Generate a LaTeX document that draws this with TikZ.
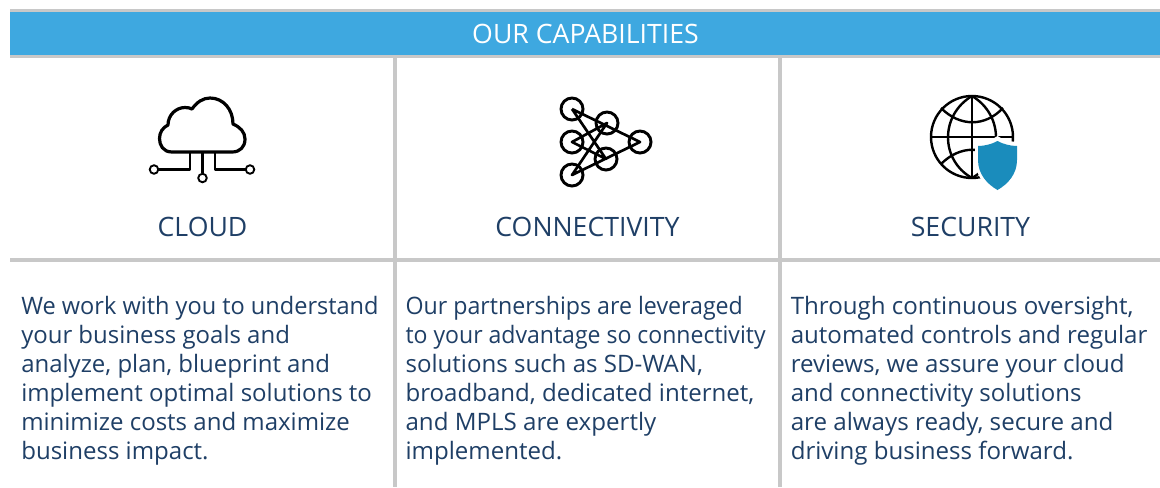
\documentclass[tikz,border=0pt]{standalone}
\usepackage{graphicx}
\usepackage{fontspec}
\setmainfont{Open Sans}
\definecolor{band}{HTML}{3EA8E0}
\definecolor{rule}{HTML}{C8C8C8}
\definecolor{navy}{HTML}{1F3F66}
\definecolor{shield}{HTML}{1A8CBC}
\newcommand{\fitline}[2]{\resizebox{#1pt}{\height}{#2}}
\tikzset{
  x=0.75pt,y=-0.75pt,
  rulel/.style={draw=rule,line width=2.6pt},
  headtext/.style={font=\fontsize{20}{24}\selectfont,text=navy,anchor=base},
  bodytext/.style={font=\fontsize{18}{21.75}\selectfont,text=navy,anchor=north west,align=left,inner sep=0pt},
  icon/.style={draw=black,line width=2pt,line join=round},
  globeline/.style={draw=black,line width=1.8pt},
  port/.style={circle,draw=black,line width=1.4pt,fill=white,minimum size=6.4pt,inner sep=0pt},
  net/.style={circle,draw=black,line width=2.2pt,minimum size=16.5pt,inner sep=0pt},
}
\begin{document}
\begin{tikzpicture}
\useasboundingbox (0,0) rectangle (1160,487);
\fill[white] (0,0) rectangle (1160,487);
% header band
\fill[rule] (10,9) rectangle (1160,58);
\fill[band] (10,11.5) rectangle (1160,55);
\node[font=\fontsize{20}{24}\selectfont,text=white,anchor=base] (title) at (585.5,43) {OUR CAPABILITIES};
% grid
\draw[rulel] (395,58) -- (395,487);
\draw[rulel] (780,58) -- (780,487);
\draw[rulel] (10,260) -- (1160,260);
% cloud
\draw[icon,line width=2.4pt] (172,152)
  .. controls (163,152) and (159.5,145) .. (159.5,138.5)
  .. controls (159.5,132) and (163,127.5) .. (168,125)
  .. controls (168,115) and (176,107.5) .. (185,107.5)
  .. controls (188,107.5) and (190,108) .. (192,109)
  .. controls (197,102) and (203,98) .. (210,98)
  .. controls (223,98) and (233,109) .. (233,124)
  .. controls (240,127) and (245,132) .. (245,139)
  .. controls (245,147) and (240,152) .. (232,152) -- cycle;
\node[port] (pl) at (154,169.5) {};
\node[port] (pm) at (202.5,178) {};
\node[port] (pr) at (250,169.5) {};
\coordinate (cl) at (190,152);
\coordinate (cm) at (202.5,152);
\coordinate (cr) at (215,152);
\draw[icon] (cl) |- (pl);
\draw[icon] (cm) -- (pm);
\draw[icon] (cr) |- (pr);
% network
\node[net] (n1) at (572,109) {};
\node[net] (n2) at (607,123) {};
\node[net] (n3) at (572,142) {};
\node[net] (n4) at (640,142) {};
\node[net] (n5) at (606,159) {};
\node[net] (n6) at (572,175) {};
\draw[icon] (n1.center) -- (n4.center) -- (n6.center) -- (n2.center) -- (n3.center) -- (n5.center) -- (n1.center);
% globe
\draw[globeline] (972,137) circle[radius=41];
\draw[globeline] (972,96) -- (972,178);
\draw[globeline] (931,137) -- (1013,137);
\draw[globeline] (972,96) .. controls (940,115) and (940,160) .. (972,178);
\draw[globeline] (972,96) .. controls (1004,115) and (1004,160) .. (972,178);
\draw[globeline] (941,108) .. controls (960,127) and (985,127) .. (1003,108);
\draw[globeline] (941,164) .. controls (960,145) and (985,145) .. (1003,164);
% shield
\fill[white] (997.5,136) .. controls (990,141) and (982,142) .. (975,142) -- (975,160)
  .. controls (975,175) and (985,187) .. (997.5,194)
  .. controls (1010,187) and (1020,175) .. (1020,160) -- (1020,142)
  .. controls (1013,142) and (1005,141) .. (997.5,136) -- cycle;
\fill[shield] (997.5,141) .. controls (992,144) and (985,146) .. (978,146) -- (978,160)
  .. controls (978,174) and (987,184) .. (997.5,190)
  .. controls (1008,184) and (1017,174) .. (1017,160) -- (1017,146)
  .. controls (1010,146) and (1003,144) .. (997.5,141) -- cycle;
% headings
\node[headtext] (h1) at (202.5,236) {CLOUD};
\node[headtext] (h2) at (587.5,236) {CONNECTIVITY};
\node[headtext] (h3) at (970.5,236) {SECURITY};
% body
\node[bodytext] (b1) at (21,295.7) {\fitline{268}{We work with you to understand}\\\fitline{201.5}{your business goals and}\\\fitline{231.5}{analyze, plan, blueprint and}\\\fitline{263}{implement optimal solutions to}\\\fitline{246.5}{minimize costs and maximize}\\\fitline{140.5}{business impact.}};
\node[bodytext] (b2) at (405.3,295.7) {\fitline{253}{Our partnerships are leveraged}\\\fitline{270}{to your advantage so connectivity}\\\fitline{223}{solutions such as SD-WAN,}\\\fitline{261.5}{broadband, dedicated internet,}\\\fitline{188}{and MPLS are expertly}\\\fitline{117.5}{implemented.}};
\node[bodytext] (b3) at (790.5,295.7) {\fitline{257}{Through continuous oversight,}\\\fitline{267.5}{automated controls and regular}\\\fitline{250.5}{reviews, we assure your cloud}\\\fitline{218}{and connectivity solutions}\\\fitline{242}{are always ready, secure and}\\\fitline{212}{driving business forward.}};
\end{tikzpicture}
\end{document}
